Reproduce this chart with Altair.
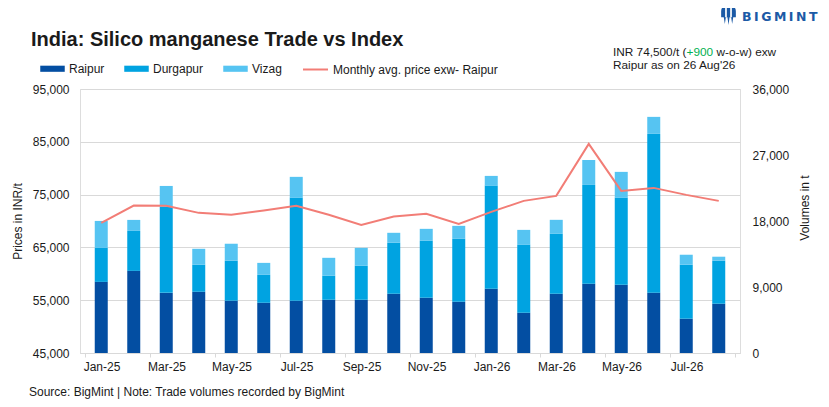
import altair as alt
import pandas as pd

months = ["Jan-25", "Feb-25", "Mar-25", "Apr-25", "May-25", "Jun-25", "Jul-25", "Aug-25",
          "Sep-25", "Oct-25", "Nov-25", "Dec-25", "Jan-26", "Feb-26", "Mar-26", "Apr-26",
          "May-26", "Jun-26", "Jul-26", "Aug-26"]
raipur = [9700, 11200, 8200, 8350, 7130, 6850, 7130, 7260, 7260, 8080,
          7540, 6990, 8760, 5490, 8080, 9440, 9310, 8220, 4680, 6720]
durgapur = [4630, 5450, 11760, 3680, 5450, 3810, 14030, 3270, 4630, 6950,
            7760, 8580, 14030, 9260, 8170, 13480, 11850, 21660, 7360, 5860]
vizag = [3680, 1500, 2820, 2180, 2320, 1630, 2860, 2450, 2450, 1360,
         1630, 1770, 1360, 2040, 1910, 3400, 3540, 2320, 1360, 550]
price = [69650, 72930, 72870, 71540, 71170, 71990, 72870, 71170, 69270, 70850,
         71360, 69460, 71730, 73810, 74760, 84600, 75700, 76270, 74950, 73810]

sites = ["Raipur", "Durgapur", "Vizag"]
site_colors = ["#034EA2", "#00A3E1", "#56C4F2"]
line_name = "Monthly avg. price exw- Raipur"
line_color = "#F27D76"

FONT = "Liberation Sans, Arial, sans-serif"
TXT = "#1a1a1a"

rows = []
for i, m in enumerate(months):
    for k, (s, vals) in enumerate(zip(sites, [raipur, durgapur, vizag])):
        rows.append({"idx": i, "month": m, "site": s, "ord": k, "vol": vals[i]})
bars_df = pd.DataFrame(rows)
line_df = pd.DataFrame({"idx": list(range(len(months))), "month": months,
                        "price": price, "series": line_name})

n = len(months)
tick_vals = [i - 0.5 for i in range(0, n + 1, 2)]
label_arr = "[" + ",".join("'" + m + "'" for m in months) + "]"
label_expr = f"{label_arr}[datum.value + 0.5] || ''"

xscale = alt.Scale(domain=[-0.5, n - 0.5], nice=False, zero=False)
xaxis = alt.Axis(values=tick_vals, labelExpr=label_expr, labelOffset=16.5, grid=False,
                 domainColor="#D9D9D9", tickColor="#D9D9D9", tickSize=4, labelPadding=4,
                 labelFontSize=12, labelColor=TXT, labelFont=FONT, title=None,
                 labelFlush=False, labelOverlap=False)

bar_path = "M-1,-0.25L1,-0.25L1,0.25L-1,0.25Z"

bars = alt.Chart(bars_df).mark_bar(size=13).encode(
    x=alt.X("idx:Q", scale=xscale, axis=xaxis),
    y=alt.Y("vol:Q", stack="zero",
            scale=alt.Scale(domain=[0, 36000], nice=False),
            axis=alt.Axis(orient="right", values=list(range(0, 36001, 9000)), format=",.0f",
                          grid=False, domain=False, ticks=False, labelPadding=12,
                          labelFontSize=12, labelColor=TXT, labelFont=FONT,
                          title="Volumes in t", titleAngle=270, titleFontSize=12,
                          titleFontWeight="normal", titleColor=TXT, titleFont=FONT,
                          titlePadding=23, titleY=118.5)),
    color=alt.Color("site:N", scale=alt.Scale(domain=sites, range=site_colors),
                    legend=alt.Legend(orient="none", legendX=-40, legendY=-33,
                                      direction="horizontal", title=None,
                                      symbolType=bar_path, symbolSize=600,
                                      symbolStrokeWidth=0, labelFontSize=12,
                                      labelColor=TXT, labelFont=FONT, labelOffset=4,
                                      columnPadding=19, padding=0)),
    order=alt.Order("ord:Q", sort="ascending"),
)

line = alt.Chart(line_df).mark_line(strokeWidth=2).encode(
    x=alt.X("idx:Q", scale=xscale),
    y=alt.Y("price:Q", scale=alt.Scale(domain=[45000, 95000], nice=False, zero=False),
            axis=alt.Axis(orient="left", values=list(range(45000, 95001, 10000)), format=",.0f",
                          grid=True, gridColor="#D9D9D9", domain=False, ticks=False,
                          labelPadding=11, labelFontSize=12, labelColor=TXT, labelFont=FONT,
                          title="Prices in INR/t", titleFontSize=12, titleFontWeight="normal",
                          titleColor=TXT, titleFont=FONT, titlePadding=8)),
    stroke=alt.Stroke("series:N", scale=alt.Scale(domain=[line_name], range=[line_color]),
                      legend=alt.Legend(orient="none", legendX=222, legendY=-33,
                                        title=None, symbolType="stroke", symbolSize=625,
                                        symbolStrokeWidth=2, labelFontSize=12,
                                        labelColor=TXT, labelFont=FONT, labelOffset=4,
                                        labelLimit=400, padding=0)),
)

one = alt.Data(values=[{"a": 1}])


def txt(text, x, y, size=12, color=TXT, weight="normal", font=FONT):
    return alt.Chart(one).mark_text(text=text, align="left", baseline="alphabetic",
                                    fontSize=size, color=color, fontWeight=weight,
                                    font=font).encode(x=alt.value(x), y=alt.value(y))


title = txt("India: Silico manganese Trade vs Index", -49, -43.3, size=20, weight="bold")
ann1a = txt("INR 74,500/t (", 533, -33.3, size=11.8)
ann1b = txt("+900", 606.5, -33.3, size=11.8, color="#00B050")
ann1c = txt("w-o-w) exw", 636.5, -33.3, size=11.8)
ann2 = txt("Raipur as on 26 Aug'26", 533, -20.2, size=11.8)
footer = txt("Source: BigMint | Note: Trade volumes recorded by BigMint", -51, 306.5)
logo_txt = txt("B\u2009I\u2009G\u2009M\u2009I\u2009N\u2009T", 662, -68, size=12.5,
               color="#1B5AA6", weight="bold", font="DejaVu Sans, sans-serif")

icon_path = ("M-0.7,0.25L-0.7,-0.3A0.7,0.7 0 0 1 0.7,-0.3L0.7,0.25L0.45,0.25L0.35,0.9"
             "L0.25,0.25L0.1,0.25L0,1L-0.1,0.25L-0.25,0.25L-0.35,0.9L-0.45,0.25Z")
stripe_path = "M-0.32,-0.75L-0.16,-0.75L-0.16,0.25L-0.32,0.25Z M0.16,-0.75L0.32,-0.75L0.32,0.25L0.16,0.25Z"
icon = alt.Chart(one).mark_point(shape=icon_path, filled=True, size=441, color="#1B5AA6",
                                 opacity=1).encode(x=alt.value(648.5), y=alt.value(-74.5))
icon2 = alt.Chart(one).mark_point(shape=stripe_path, filled=True, size=441, color="white",
                                  opacity=1).encode(x=alt.value(648.5), y=alt.value(-74.5))

chart = alt.layer(bars, line, title, ann1a, ann1b, ann1c, ann2, footer, logo_txt, icon, icon2
                  ).resolve_scale(y="independent", color="independent").properties(
    width=660, height=264, autosize="none",
    padding={"left": 72, "top": 81, "right": 81, "bottom": 46},
    background="white",
).configure_view(stroke=None).configure(font=FONT)

chart.save("out.html", embed_options={"renderer": "svg", "actions": False})
